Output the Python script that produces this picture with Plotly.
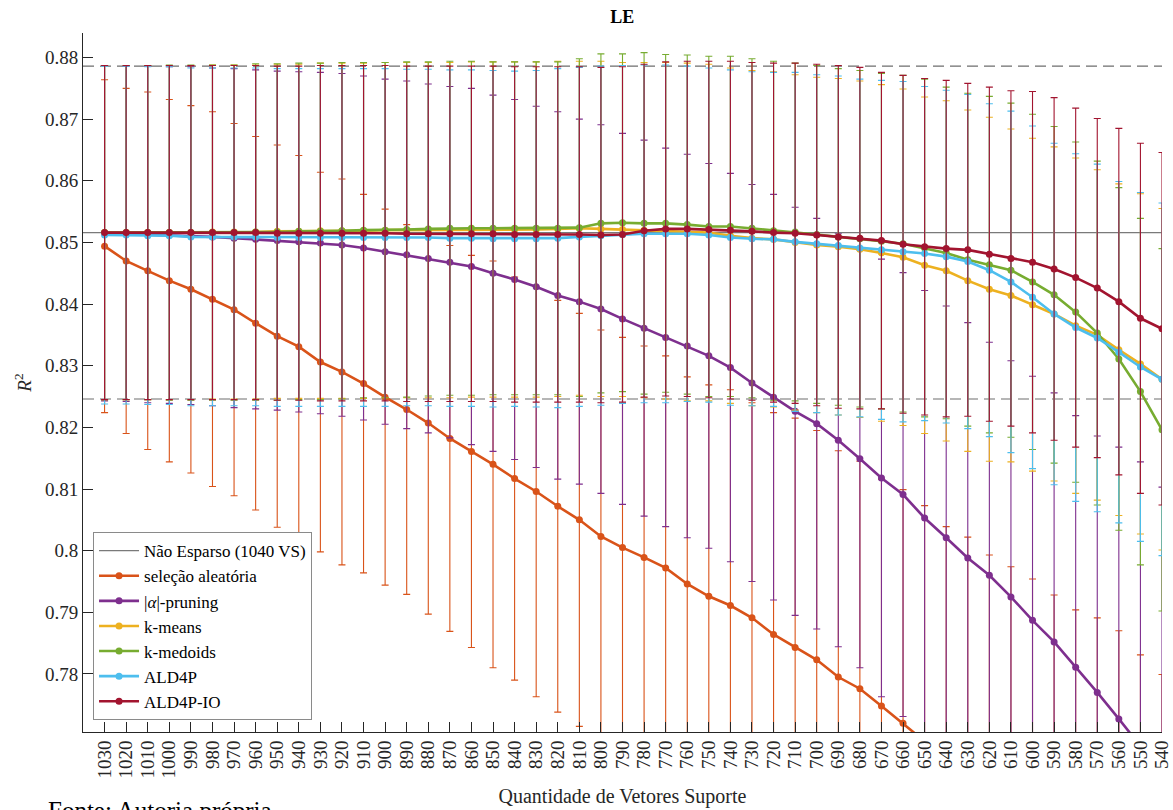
import plotly.graph_objects as go

# ---------------- data ----------------
vs = [1030, 1020, 1010, 1000, 990, 980, 970, 960, 950, 940,
      930, 920, 910, 900, 890, 880, 870, 860, 850, 840,
      830, 820, 810, 800, 790, 780, 770, 760, 750, 740,
      730, 720, 710, 700, 690, 680, 670, 660, 650, 640,
      630, 620, 610, 600, 590, 580, 570, 560, 550, 540]

nonsparse_mean = 0.8516
nonsparse_std = 0.0270

rand_mean = [0.8494, 0.8470, 0.8454, 0.8438, 0.8424, 0.8408, 0.8391, 0.8369, 0.8348, 0.8331,
             0.8306, 0.8290, 0.8271, 0.8249, 0.8229, 0.8207, 0.8182, 0.8161, 0.8140, 0.8117,
             0.8096, 0.8072, 0.8050, 0.8023, 0.8005, 0.7989, 0.7972, 0.7946, 0.7926, 0.7911,
             0.7891, 0.7864, 0.7843, 0.7823, 0.7795, 0.7776, 0.7748, 0.7720, 0.7692, 0.7662,
             0.7630, 0.7600, 0.7570, 0.7540, 0.7510, 0.7480, 0.7450, 0.7420, 0.7390, 0.7360]
rand_std = [0.0270, 0.0280, 0.0290, 0.0294, 0.0298, 0.0304, 0.0302, 0.0303, 0.0310, 0.0310,
            0.0308, 0.0313, 0.0307, 0.0305, 0.0300, 0.0310, 0.0313, 0.0318, 0.0330, 0.0327,
            0.0333, 0.0334, 0.0335, 0.0335, 0.0341, 0.0343, 0.0344, 0.0336, 0.0343, 0.0350,
            0.0349, 0.0360, 0.0372, 0.0372, 0.0367, 0.0369, 0.0368, 0.0379, 0.0381, 0.0377,
            0.0392, 0.0393, 0.0404, 0.0414, 0.0418, 0.0424, 0.0441, 0.0450, 0.0441, 0.0439]

prun_mean = [0.8515, 0.8514, 0.8513, 0.8512, 0.8511, 0.8509, 0.8507, 0.8505, 0.8503, 0.8501,
             0.8499, 0.8496, 0.8491, 0.8485, 0.8480, 0.8474, 0.8468, 0.8461, 0.8450, 0.8440,
             0.8428, 0.8414, 0.8404, 0.8392, 0.8376, 0.8361, 0.8346, 0.8332, 0.8316, 0.8297,
             0.8272, 0.8249, 0.8226, 0.8206, 0.8179, 0.8149, 0.8118, 0.8091, 0.8053, 0.8021,
             0.7988, 0.7960, 0.7925, 0.7887, 0.7852, 0.7811, 0.7770, 0.7727, 0.7683, 0.7635]
prun_std = [0.0272, 0.0272, 0.0273, 0.0273, 0.0274, 0.0274, 0.0275, 0.0275, 0.0275, 0.0276,
            0.0277, 0.0278, 0.0279, 0.0280, 0.0282, 0.0283, 0.0285, 0.0289, 0.0289, 0.0292,
            0.0293, 0.0298, 0.0296, 0.0299, 0.0301, 0.0305, 0.0307, 0.0311, 0.0312, 0.0315,
            0.0322, 0.0329, 0.0331, 0.0333, 0.0335, 0.0339, 0.0355, 0.0360, 0.0369, 0.0376,
            0.0382, 0.0378, 0.0383, 0.0396, 0.0404, 0.0408, 0.0416, 0.0441, 0.0461, 0.0468]

kmeans_mean = [0.8516, 0.8516, 0.8516, 0.8516, 0.8516, 0.8517, 0.8517, 0.8517, 0.8518, 0.8518,
               0.8519, 0.8519, 0.8519, 0.8520, 0.8520, 0.8520, 0.8520, 0.8521, 0.8521, 0.8521,
               0.8521, 0.8522, 0.8523, 0.8522, 0.8521, 0.8520, 0.8519, 0.8517, 0.8516, 0.8511,
               0.8507, 0.8505, 0.8500, 0.8496, 0.8493, 0.8489, 0.8483, 0.8476, 0.8463, 0.8454,
               0.8438, 0.8424, 0.8414, 0.8399, 0.8384, 0.8365, 0.8350, 0.8326, 0.8303, 0.8278]
kmeans_std = [0.0271, 0.0271, 0.0271, 0.0271, 0.0271, 0.0271, 0.0271, 0.0271, 0.0271, 0.0271,
              0.0272, 0.0272, 0.0272, 0.0272, 0.0272, 0.0272, 0.0272, 0.0272, 0.0272, 0.0272,
              0.0272, 0.0272, 0.0271, 0.0272, 0.0271, 0.0272, 0.0273, 0.0274, 0.0273, 0.0272,
              0.0272, 0.0272, 0.0272, 0.0272, 0.0273, 0.0273, 0.0273, 0.0273, 0.0273, 0.0276,
              0.0277, 0.0279, 0.0270, 0.0270, 0.0271, 0.0272, 0.0268, 0.0269, 0.0276, 0.0277]

kmed_mean = [0.8516, 0.8516, 0.8516, 0.8516, 0.8516, 0.8516, 0.8516, 0.8517, 0.8517, 0.8518,
             0.8518, 0.8519, 0.8520, 0.8520, 0.8521, 0.8522, 0.8523, 0.8523, 0.8523, 0.8523,
             0.8523, 0.8523, 0.8524, 0.8531, 0.8532, 0.8531, 0.8531, 0.8529, 0.8526, 0.8526,
             0.8523, 0.8519, 0.8517, 0.8513, 0.8509, 0.8506, 0.8502, 0.8498, 0.8491, 0.8483,
             0.8472, 0.8464, 0.8455, 0.8436, 0.8415, 0.8387, 0.8353, 0.8311, 0.8258, 0.8196]
kmed_std = [0.0271, 0.0271, 0.0271, 0.0272, 0.0272, 0.0272, 0.0272, 0.0273, 0.0273, 0.0273,
            0.0273, 0.0273, 0.0272, 0.0272, 0.0272, 0.0271, 0.0271, 0.0271, 0.0270, 0.0270,
            0.0270, 0.0270, 0.0274, 0.0275, 0.0274, 0.0277, 0.0274, 0.0275, 0.0276, 0.0276,
            0.0275, 0.0275, 0.0274, 0.0274, 0.0273, 0.0273, 0.0272, 0.0273, 0.0274, 0.0269,
            0.0270, 0.0273, 0.0271, 0.0272, 0.0273, 0.0276, 0.0279, 0.0278, 0.0281, 0.0294]

ald_mean = [0.8512, 0.8512, 0.8511, 0.8511, 0.8509, 0.8509, 0.8509, 0.8509, 0.8508, 0.8508,
            0.8508, 0.8508, 0.8508, 0.8508, 0.8508, 0.8508, 0.8507, 0.8507, 0.8506, 0.8506,
            0.8506, 0.8507, 0.8509, 0.8511, 0.8513, 0.8514, 0.8514, 0.8514, 0.8512, 0.8508,
            0.8506, 0.8505, 0.8501, 0.8498, 0.8495, 0.8491, 0.8488, 0.8485, 0.8482, 0.8477,
            0.8469, 0.8455, 0.8436, 0.8411, 0.8384, 0.8362, 0.8345, 0.8322, 0.8298, 0.8278]
ald_std = [0.0274, 0.0274, 0.0274, 0.0274, 0.0274, 0.0274, 0.0274, 0.0274, 0.0274, 0.0274,
           0.0274, 0.0274, 0.0274, 0.0274, 0.0273, 0.0273, 0.0273, 0.0273, 0.0273, 0.0272,
           0.0273, 0.0275, 0.0275, 0.0275, 0.0274, 0.0274, 0.0274, 0.0272, 0.0271, 0.0272,
           0.0271, 0.0271, 0.0275, 0.0274, 0.0275, 0.0274, 0.0275, 0.0276, 0.0271, 0.0270,
           0.0271, 0.0270, 0.0277, 0.0278, 0.0277, 0.0282, 0.0282, 0.0277, 0.0283, 0.0286]

aldio_mean = [0.8516, 0.8516, 0.8516, 0.8516, 0.8516, 0.8516, 0.8516, 0.8516, 0.8515, 0.8515,
              0.8515, 0.8515, 0.8515, 0.8515, 0.8514, 0.8514, 0.8514, 0.8514, 0.8514, 0.8513,
              0.8513, 0.8513, 0.8513, 0.8512, 0.8513, 0.8519, 0.8522, 0.8522, 0.8521, 0.8520,
              0.8518, 0.8516, 0.8515, 0.8512, 0.8509, 0.8507, 0.8503, 0.8497, 0.8493, 0.8490,
              0.8488, 0.8481, 0.8474, 0.8468, 0.8457, 0.8443, 0.8426, 0.8404, 0.8377, 0.8360]
aldio_std = [0.0271, 0.0271, 0.0271, 0.0271, 0.0271, 0.0271, 0.0271, 0.0271, 0.0271, 0.0271,
             0.0272, 0.0272, 0.0272, 0.0272, 0.0272, 0.0272, 0.0272, 0.0272, 0.0272, 0.0272,
             0.0272, 0.0272, 0.0272, 0.0272, 0.0272, 0.0270, 0.0271, 0.0272, 0.0273, 0.0274,
             0.0274, 0.0275, 0.0276, 0.0277, 0.0278, 0.0277, 0.0273, 0.0274, 0.0273, 0.0273,
             0.0270, 0.0271, 0.0272, 0.0277, 0.0278, 0.0275, 0.0275, 0.0281, 0.0284, 0.0286]

series = [
    ("seleção aleatória", rand_mean, rand_std, "#D95319"),
    ("|<i>α</i>|-pruning", prun_mean, prun_std, "#7E2F8E"),
    ("k-means", kmeans_mean, kmeans_std, "#EDB120"),
    ("k-medoids", kmed_mean, kmed_std, "#77AC30"),
    ("ALD4P", ald_mean, ald_std, "#4DBEEE"),
    ("ALD4P-IO", aldio_mean, aldio_std, "#A2142F"),
]

y_ticks = [0.78, 0.79, 0.80, 0.81, 0.82, 0.83, 0.84, 0.85, 0.86, 0.87, 0.88]
y_ticktext = ["0.78", "0.79", "0.8", "0.81", "0.82", "0.83", "0.84", "0.85", "0.86", "0.87", "0.88"]

# ---------------- figure ----------------
FONT = "Liberation Serif, Times New Roman, serif"
x_lo = max(vs) + 10
x_hi = min(vs)
fig = go.Figure()

fig.add_trace(go.Scatter(
    x=[x_lo, x_hi], y=[nonsparse_mean, nonsparse_mean], mode="lines",
    line=dict(color="#7a7a7a", width=1.2), name="Não Esparso (1040 VS)",
))
for off in (nonsparse_std, -nonsparse_std):
    fig.add_trace(go.Scatter(
        x=[x_lo, x_hi], y=[nonsparse_mean + off] * 2, mode="lines",
        line=dict(color="#6e6e6e", width=1.2, dash="11px,6px"),
        showlegend=False, hoverinfo="skip",
    ))

for name, m, s, c in series:
    fig.add_trace(go.Scatter(
        x=vs, y=m, mode="lines+markers", name=name,
        line=dict(color=c, width=2.6),
        marker=dict(color=c, size=7),
        error_y=dict(type="data", array=s, visible=True, color=c, thickness=1.1, width=3.5),
    ))

fig.update_layout(
    width=1173, height=810,
    margin=dict(l=83, r=11, t=33, b=78, autoexpand=False),
    paper_bgcolor="white", plot_bgcolor="white",
    font=dict(family=FONT, color="#262626", size=19),
    title=dict(text="<b>LE</b>", x=0.5305, xanchor="center", y=0.98, yanchor="middle",
               font=dict(family=FONT, size=18, color="black")),
    showlegend=True,
    legend=dict(x=0.0093, y=0.017, xanchor="left", yanchor="bottom",
                bgcolor="white", bordercolor="#8a8a8a", borderwidth=1,
                font=dict(family=FONT, size=17, color="black"),
                tracegroupgap=0, itemwidth=40),
)

fig.update_xaxes(
    range=[x_lo, x_hi], tickmode="array", tickvals=vs, ticktext=[str(v) for v in vs],
    tickangle=-90, ticks="inside", ticklen=10, tickwidth=1, tickcolor="#262626",
    showline=True, linecolor="#262626", linewidth=1, mirror=False,
    showgrid=False, zeroline=False, automargin=False,
    tickfont=dict(family=FONT, size=19, color="#262626"),
    title=dict(text="Quantidade de Vetores Suporte", standoff=11,
               font=dict(family=FONT, size=20, color="#262626")),
)
fig.update_yaxes(
    range=[0.77058, 0.88398], tickmode="array", tickvals=y_ticks, ticktext=y_ticktext,
    ticks="inside", ticklen=10, tickwidth=1, tickcolor="#262626",
    showline=True, linecolor="#262626", linewidth=1,
    showgrid=False, zeroline=False, automargin=False,
    tickfont=dict(family=FONT, size=19, color="#262626"),
    title=dict(text="<i>R</i><sup>2</sup>", standoff=8,
               font=dict(family=FONT, size=19, color="#262626")),
)

fig.add_annotation(
    text="Fonte: Autoria própria", xref="paper", yref="paper",
    x=-0.0334, y=-0.091, xanchor="left", yanchor="top", showarrow=False,
    borderpad=0, font=dict(family=FONT, size=25, color="black"),
)

fig.write_html(
    "out.html",
    config={"displayModeBar": False},
    post_script="document.body.style.margin='0px';document.body.style.overflow='hidden';",
)
